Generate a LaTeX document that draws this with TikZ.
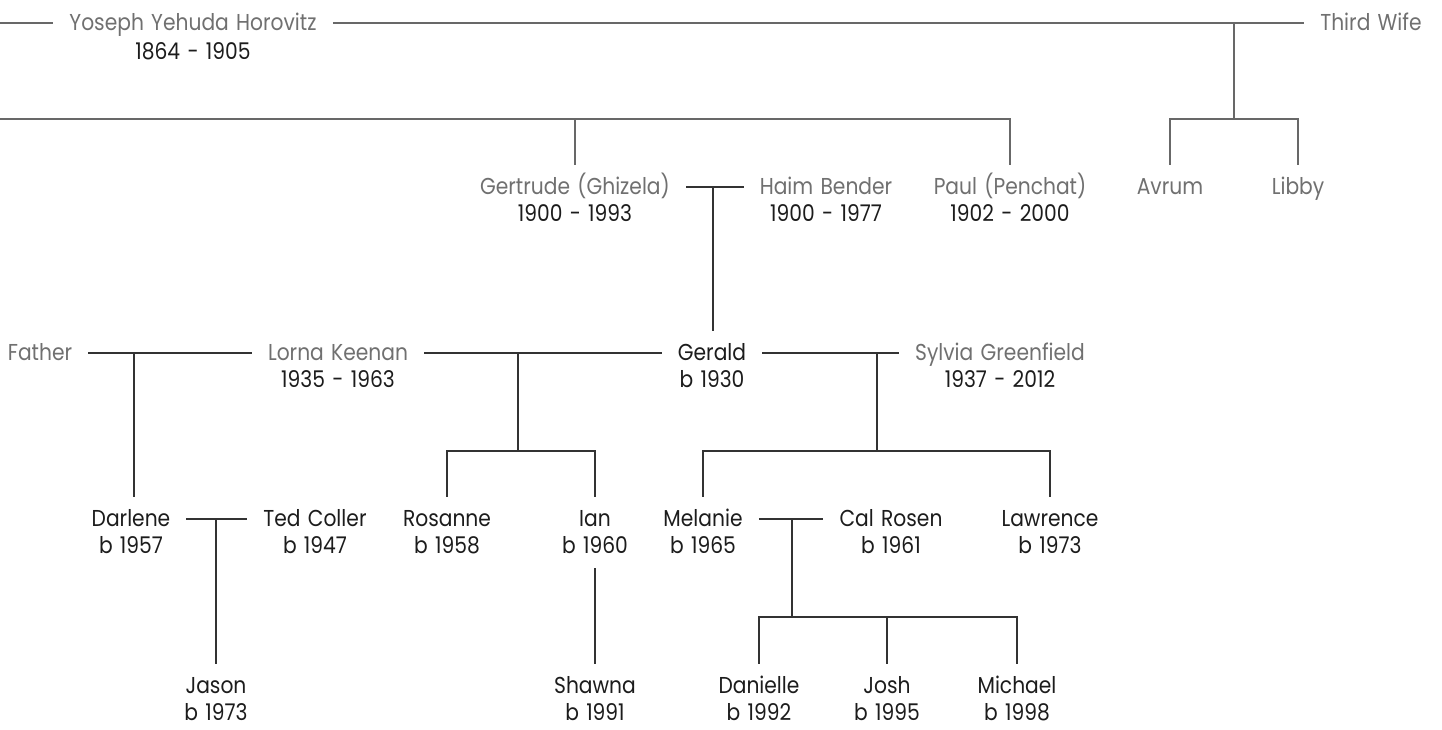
\documentclass[tikz,border=0pt]{standalone}
\usepackage{fontspec}
\setmainfont{Poppins}[FakeStretch=0.88, WordSpace=1.35]
\definecolor{namegray}{HTML}{707070}
\definecolor{textdark}{HTML}{1C1C1C}
\definecolor{linegray}{HTML}{686868}
\definecolor{linedark}{HTML}{333333}
\tikzset{
  basebox/.style={inner xsep=16pt, inner ysep=11pt, text height=18pt, text depth=4pt,
    font=\fontsize{23}{27}\selectfont},
  oldname/.style={basebox, text=namegray},
  newname/.style={basebox, text=textdark},
  datebox/.style={anchor=base, inner xsep=0pt, inner ysep=11pt, text height=16pt, text depth=4pt,
    font=\fontsize{23}{27}\selectfont, text=textdark},
  gl/.style={draw=linegray, line width=1.8pt},
  dl/.style={draw=linedark, line width=1.3pt},
}
\begin{document}
\begin{tikzpicture}[x=1pt,y=-1pt]
\useasboundingbox (0,0) rectangle (1442,729);
% generation 0
\node[oldname] (yos) at (193,23) {Yoseph Yehuda Horovitz};
\node[datebox] (yosd) at (193,59) {1864 - 1905};
\node[oldname] (third) at (1371,23) {Third Wife};
\coordinate (e0) at (0,23);
\coordinate (j0) at (1234,23);
\coordinate (b0) at (1234,119);
\coordinate (e1) at (0,119);
% generation 1
\node[oldname] (gert) at (575,187) {Gertrude (Ghizela)};
\node[datebox] (gertd) at (575,221) {1900 - 1993};
\node[oldname] (haim) at (826,187) {Haim Bender};
\node[datebox] (haimd) at (826,221) {1900 - 1977};
\node[oldname] (paul) at (1010,187) {Paul (Penchat)};
\node[datebox] (pauld) at (1010,221) {1902 - 2000};
\node[oldname] (avrum) at (1170,187) {Avrum};
\node[oldname] (libby) at (1298,187) {Libby};
\coordinate (j1) at (713,187);
% generation 2
\node[oldname] (father) at (40,353) {Father};
\node[oldname] (lorna) at (338,353) {Lorna Keenan};
\node[datebox] (lornad) at (338,387) {1935 - 1963};
\node[newname] (gerald) at (712,353) {Gerald};
\node[datebox] (geraldd) at (712,387) {b 1930};
\node[oldname] (sylvia) at (1000,353) {Sylvia Greenfield};
\node[datebox] (sylviad) at (1000,387) {1937 - 2012};
\coordinate (j2) at (134,353);
\coordinate (j3) at (518,353);
\coordinate (b3) at (518,451);
\coordinate (j4) at (877,353);
\coordinate (b4) at (877,451);
% generation 3
\node[newname] (darlene) at (131,519) {Darlene};
\node[datebox] (darlened) at (131,553) {b 1957};
\node[newname] (ted) at (315,519) {Ted Coller};
\node[datebox] (tedd) at (315,553) {b 1947};
\node[newname] (rosanne) at (447,519) {Rosanne};
\node[datebox] (rosanned) at (447,553) {b 1958};
\node[newname] (ian) at (595,519) {Ian};
\node[datebox] (iand) at (595,553) {b 1960};
\node[newname] (melanie) at (703,519) {Melanie};
\node[datebox] (melanied) at (703,553) {b 1965};
\node[newname] (cal) at (891,519) {Cal Rosen};
\node[datebox] (cald) at (891,553) {b 1961};
\node[newname] (lawrence) at (1050,519) {Lawrence};
\node[datebox] (lawrenced) at (1050,553) {b 1973};
\coordinate (j5) at (216,519);
\coordinate (j6) at (792,519);
\coordinate (b6) at (792,617);
% generation 4
\node[newname] (jason) at (216,686) {Jason};
\node[datebox] (jasond) at (216,720) {b 1973};
\node[newname] (shawna) at (595,686) {Shawna};
\node[datebox] (shawnad) at (595,720) {b 1991};
\node[newname] (danielle) at (759,686) {Danielle};
\node[datebox] (danielled) at (759,720) {b 1992};
\node[newname] (josh) at (887,686) {Josh};
\node[datebox] (joshd) at (887,720) {b 1995};
\node[newname] (michael) at (1017,686) {Michael};
\node[datebox] (michaeld) at (1017,720) {b 1998};
% gray connectors
\draw[gl] (e0) -- (yos.west);
\draw[gl] (yos.east) -- (third.west);
\draw[gl] (j0) -- (b0);
\draw[gl] (avrum.north) |- (b0) -| (libby.north);
\draw[gl] (e1) -| (paul.north);
\draw[gl] (gert.north) -- (gert.north |- e1);
% dark connectors
\draw[dl] (gert.east) -- (haim.west);
\draw[dl] (j1) -- (j1 |- gerald.north);
\draw[dl] (father.east) -- (lorna.west);
\draw[dl] (j2) -- (j2 |- darlene.north);
\draw[dl] (lorna.east) -- (gerald.west);
\draw[dl] (j3) -- (b3);
\draw[dl] (rosanne.north) |- (b3) -| (ian.north);
\draw[dl] (gerald.east) -- (sylvia.west);
\draw[dl] (j4) -- (b4);
\draw[dl] (melanie.north) |- (b4) -| (lawrence.north);
\draw[dl] (darlene.east) -- (ted.west);
\draw[dl] (j5) -- (j5 |- jason.north);
\draw[dl] (iand.south) -- (shawna.north);
\draw[dl] (melanie.east) -- (cal.west);
\draw[dl] (j6) -- (b6);
\draw[dl] (danielle.north) |- (b6) -| (michael.north);
\draw[dl] (josh.north) -- (josh.north |- b6);
\end{tikzpicture}
\end{document}
